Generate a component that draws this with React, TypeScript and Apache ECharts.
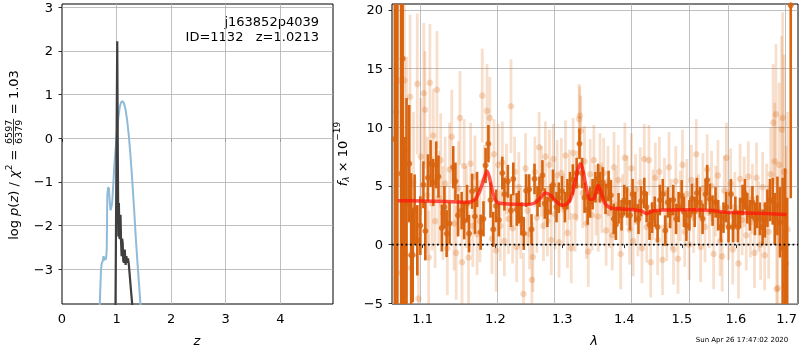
import React, { useEffect, useRef } from 'react';
import * as echarts from 'echarts';

const FONT = 'DejaVu Sans';

// ---------- left panel: log p(z) ----------
const zTicks = [0, 1, 2, 3, 4];
const logpTicks = [-3, -2, -1, 0, 1, 2, 3];
const templateZ = [0.69, 0.715, 0.73, 0.745, 0.76, 0.775, 0.79, 0.805, 0.82, 0.83, 0.845, 0.86, 0.875, 0.89, 0.905, 0.92, 0.94, 0.96, 0.985, 1.01, 1.035, 1.06, 1.085, 1.11, 1.135, 1.165, 1.195, 1.225, 1.255, 1.29, 1.32, 1.35, 1.38, 1.41, 1.44];
const templateLogP = [-3.85, -3.0, -2.85, -2.82, -2.7, -2.8, -2.72, -2.78, -2.55, -1.3, -1.12, -1.15, -1.45, -1.65, -1.58, -1.45, -1.05, -0.6, -0.2, 0.2, 0.5, 0.73, 0.83, 0.85, 0.8, 0.66, 0.4, 0.05, -0.4, -1.02, -1.6, -2.24, -2.8, -3.31, -3.85];
const fitZ = [0.98, 1.0, 1.012, 1.022, 1.032, 1.042, 1.052, 1.062, 1.072, 1.082, 1.092, 1.102, 1.112, 1.122, 1.135, 1.15, 1.165, 1.18, 1.195, 1.21, 1.225, 1.245, 1.265, 1.29];
const fitLogP = [-3.85, 0.0, 2.22, -0.3, -2.25, -1.48, -2.28, -2.3, -1.75, -2.35, -2.7, -2.3, -2.4, -2.8, -2.85, -2.55, -2.9, -2.7, -2.85, -2.75, -2.9, -3.2, -3.5, -3.85];

// ---------- right panel: spectrum ----------
const lamTicks = [1.1, 1.2, 1.3, 1.4, 1.5, 1.6, 1.7];
const fluxTicks = [-5, 0, 5, 10, 15, 20];

// [lambda, flux, error]
const darkPoints = [
  [1.0640, 9.0, 30], [1.0672, 24.0, 30], [1.0722, 6.05, 28], [1.0740, 15.85, 22], [1.0765, -0.83, 10],
  [1.0790, 3.5, 9], [1.0825, 6.9, 5], [1.0850, -0.9, 7], [1.0870, -0.9, 4], [1.0895, 2.98, 3],
  [1.0930, 0.37, 3], [1.0970, 1.62, 2.5], [1.1010, 5.1, 2], [1.1035, 1.16, 2.5], [1.1070, 5.7, 2],
  [1.1105, 6.9, 2], [1.1140, 5.3, 2], [1.1180, 6.8, 2], [1.1210, 5.8, 1.8], [1.1255, 1.42, 2],
  [1.1290, 3.2, 1.8], [1.1320, 0.94, 2], [1.1360, 1.8, 1.8], [1.1410, 6.6, 1.8], [1.1440, 5.4, 1.6],
  [1.1475, 2.5, 1.8], [1.1525, 2.9, 1.6], [1.1560, 2.05, 1.6], [1.1600, 3.5, 1.6], [1.1628, 0.94, 1.6],
  [1.1670, 4.55, 1.5], [1.1710, 2.4, 1.5], [1.1740, 4.7, 1.5], [1.1790, 1.06, 1.5], [1.1830, 2.2, 1.5],
  [1.1860, 6.75, 1.5], [1.1900, 8.6, 1.6], [1.1930, 3.8, 1.5], [1.1970, 1.3, 1.5], [1.2010, 3.3, 1.4],
  [1.2050, 2.1, 1.4], [1.2100, 6.1, 1.4], [1.2130, 4.3, 1.4], [1.2180, 5.4, 1.4], [1.2225, 2.9, 1.4],
  [1.2260, 5.6, 1.4], [1.2310, 3.0, 1.4], [1.2340, 3.2, 1.4], [1.2380, 2.2, 1.4], [1.2415, 0.95, 1.4],
  [1.2450, 4.6, 1.4], [1.2495, 4.7, 1.3], [1.2530, 1.3, 1.3], [1.2575, 5.6, 1.3], [1.2620, 3.7, 1.3],
  [1.2650, 4.5, 1.3], [1.2695, 5.9, 1.3], [1.2730, 3.5, 1.3], [1.2770, 2.8, 1.3], [1.2820, 3.85, 1.3],
  [1.2855, 5.1, 1.3], [1.2910, 3.2, 1.3], [1.2945, 4.0, 1.3], [1.2995, 4.55, 1.3], [1.3040, 3.2, 1.3],
  [1.3080, 4.3, 1.3], [1.3120, 4.9, 1.3], [1.3165, 5.55, 1.3], [1.3225, 6.1, 1.3], [1.3270, 8.6, 1.3],
  [1.3310, 6.1, 1.3], [1.3350, 4.0, 1.3], [1.3400, 3.0, 1.3], [1.3440, 3.6, 1.3], [1.3480, 4.3, 1.3],
  [1.3525, 4.9, 1.3], [1.3570, 5.6, 1.3], [1.3600, 4.9, 1.3], [1.3645, 5.3, 1.3], [1.3690, 3.9, 1.3],
  [1.3740, 5.0, 1.3], [1.3778, 4.2, 1.3], [1.3825, 2.2, 1.3], [1.3860, 1.7, 1.3], [1.3905, 3.1, 1.3],
  [1.3955, 2.5, 1.3], [1.4000, 3.8, 1.3], [1.4045, 3.6, 1.3], [1.4095, 2.5, 1.3], [1.4140, 4.3, 1.3],
  [1.4185, 3.2, 1.3], [1.4240, 2.2, 1.3], [1.4285, 3.7, 1.3], [1.4340, 4.4, 1.3], [1.4380, 3.2, 1.3],
  [1.4430, 1.7, 1.3], [1.4475, 2.3, 1.3], [1.4520, 2.8, 1.3], [1.4570, 1.5, 1.3], [1.4610, 3.8, 1.3],
  [1.4660, 4.3, 1.3], [1.4705, 1.2, 1.3], [1.4750, 3.6, 1.3], [1.4790, 2.7, 1.3], [1.4845, 3.8, 1.3],
  [1.4895, 2.2, 1.3], [1.4940, 3.2, 1.3], [1.4995, 4.2, 1.3], [1.5035, 2.8, 1.3], [1.5080, 1.6, 1.3],
  [1.5135, 2.5, 1.3], [1.5180, 3.9, 1.3], [1.5230, 2.8, 1.3], [1.5270, 4.4, 1.3], [1.5325, 3.6, 1.3],
  [1.5375, 2.2, 1.3], [1.5430, 4.3, 1.3], [1.5460, 5.5, 1.3], [1.5510, 3.9, 1.3], [1.5560, 2.9, 1.3],
  [1.5615, 3.6, 1.3], [1.5665, 2.5, 1.3], [1.5715, 1.5, 1.3], [1.5765, 2.3, 1.3], [1.5815, 3.2, 1.3],
  [1.5860, 1.5, 1.3], [1.5905, 4.3, 1.3], [1.5945, 1.5, 1.3], [1.5990, 2.8, 1.3], [1.6040, 1.5, 1.3],
  [1.6080, 2.7, 1.3], [1.6130, 3.8, 1.3], [1.6175, 4.3, 1.3], [1.6220, 3.1, 1.3], [1.6270, 2.5, 1.3],
  [1.6320, 3.6, 1.4], [1.6370, 2.2, 1.4], [1.6415, 2.8, 1.4], [1.6465, 2.2, 1.4], [1.6520, 1.5, 1.5],
  [1.6565, 2.1, 1.5], [1.6615, 3.1, 1.6], [1.6665, 3.8, 1.8], [1.6720, 3.7, 2], [1.6760, 2.2, 2.2],
  [1.6815, 3.3, 2.5], [1.6865, 1.9, 3], [1.6920, -0.3, 6], [1.6970, -3.5, 10], [1.7010, -8.0, 12],
  [1.7085, 20.4, 16.45],
];

const faintPoints = [
  [1.0655, 11.3, 9], [1.0690, 14.0, 9], [1.0720, -2.4, 8], [1.0745, 4.5, 8], [1.0762, 14.0, 8],
  [1.0790, 8.0, 8], [1.0835, 12.6, 7], [1.0850, -2.0, 6], [1.0880, 5.3, 6], [1.0930, 13.7, 6],
  [1.0945, -4.6, 6], [1.0975, 7.5, 5], [1.1015, 12.9, 6], [1.1030, 11.5, 5], [1.1060, 4.2, 5],
  [1.1080, -1.1, 4], [1.1095, 13.8, 5], [1.1125, 3.5, 4], [1.1140, 9.3, 4], [1.1165, 2.0, 4],
  [1.1190, 13.2, 5], [1.1215, 4.0, 4], [1.1240, 7.2, 4], [1.1270, 2.7, 4], [1.1300, 5.2, 4],
  [1.1330, -0.3, 4], [1.1360, 6.4, 4], [1.1390, 9.2, 4], [1.1420, 1.8, 4], [1.1450, -0.7, 4],
  [1.1480, 4.8, 4], [1.1502, 10.8, 4], [1.1530, -1.5, 4], [1.1560, 6.7, 4], [1.1590, 3.2, 3.5],
  [1.1620, -1.1, 4], [1.1650, 6.9, 3.5], [1.1680, 1.6, 3.5], [1.1710, 5.8, 3.5], [1.1740, 0.9, 3.5],
  [1.1780, 2.0, 3.5], [1.1813, 12.7, 4], [1.1840, 5.5, 3], [1.1880, 11.4, 4], [1.1920, 10.8, 3.5],
  [1.1950, 0.5, 3], [1.1980, 7.7, 3], [1.2010, -0.5, 3.5], [1.2040, 6.8, 3.5], [1.2070, 1.6, 3],
  [1.2100, 7.0, 3.5], [1.2130, 0.3, 3], [1.2160, 5.6, 3], [1.2190, 2.2, 3], [1.2226, 11.8, 4],
  [1.2250, 1.4, 3], [1.2280, 6.2, 3], [1.2310, -0.2, 3], [1.2340, 4.9, 3], [1.2370, 1.8, 3],
  [1.2410, -4.2, 3.5], [1.2440, 6.5, 3], [1.2470, 2.9, 3], [1.2500, 0.9, 3], [1.2535, -3.0, 3.5],
  [1.2550, -1.05, 3], [1.2580, 6.2, 3], [1.2610, 2.3, 3], [1.2645, 8.3, 3], [1.2680, 5.4, 3],
  [1.2710, 1.6, 3], [1.2740, 7.5, 3], [1.2770, 2.0, 3], [1.2800, 6.8, 3], [1.2830, 0.4, 3],
  [1.2860, 7.3, 3], [1.2890, 2.6, 3], [1.2920, 5.9, 3], [1.2950, 0.2, 3], [1.2985, 6.1, 3],
  [1.3020, 3.0, 3], [1.3050, 7.6, 3], [1.3080, 1.0, 3], [1.3110, 5.1, 3], [1.3140, -0.3, 3],
  [1.3170, 7.8, 3], [1.3200, 2.4, 3], [1.3230, 5.0, 3], [1.3265, 10.7, 3], [1.3275, 11.0, 2.5],
  [1.3290, 9.7, 3], [1.3320, 4.4, 3], [1.3350, 7.1, 3], [1.3380, 1.8, 3], [1.3410, -0.6, 3],
  [1.3440, 6.0, 3], [1.3470, 2.5, 3], [1.3500, 7.2, 3], [1.3535, 3.8, 3], [1.3570, 2.4, 3],
  [1.3600, 6.5, 3], [1.3630, 4.0, 3], [1.3660, 6.1, 3], [1.3700, 1.2, 3], [1.3730, 5.4, 3],
  [1.3760, 2.7, 3], [1.3800, 0.8, 3], [1.3830, 6.6, 3], [1.3860, 3.4, 3], [1.3900, 5.5, 3],
  [1.3940, -0.8, 3], [1.3970, 3.0, 3], [1.4010, 7.4, 3], [1.4050, 4.6, 3], [1.4090, 1.3, 3],
  [1.4120, 6.5, 3], [1.4150, 0.3, 3], [1.4190, 4.7, 3], [1.4230, 2.0, 3], [1.4270, 5.3, 3],
  [1.4300, -0.3, 3], [1.4340, 7.3, 3], [1.4380, 1.5, 3], [1.4420, 7.2, 3], [1.4450, -1.5, 3],
  [1.4490, 3.4, 3], [1.4530, 5.7, 3], [1.4570, 0.4, 3], [1.4600, 6.2, 3], [1.4655, -1.3, 3],
  [1.4690, 4.4, 3], [1.4730, 1.6, 3], [1.4770, 6.6, 3], [1.4810, 2.6, 3], [1.4850, -0.4, 3],
  [1.4890, 5.4, 3], [1.4930, -1.2, 3], [1.4970, 3.3, 3], [1.5010, 6.8, 3], [1.5050, 1.1, 3],
  [1.5090, 4.3, 3], [1.5130, 0.0, 3], [1.5170, 5.5, 3], [1.5210, 2.3, 3], [1.5260, 7.7, 3],
  [1.5300, 3.0, 3], [1.5340, -0.2, 3], [1.5380, 4.8, 3], [1.5420, 1.5, 3], [1.5460, 6.4, 3],
  [1.5500, 2.7, 3], [1.5540, 5.0, 3], [1.5580, -0.8, 3], [1.5620, 3.7, 3], [1.5660, 5.9, 3],
  [1.5700, 0.3, 3], [1.5740, -1.0, 3], [1.5780, 4.6, 3], [1.5820, 7.4, 3], [1.5860, 1.7, 3],
  [1.5900, 5.2, 3], [1.5940, -0.4, 3], [1.5980, 3.2, 3], [1.6050, -1.6, 3], [1.6080, 5.6, 3],
  [1.6120, 2.1, 3], [1.6160, 4.5, 3], [1.6200, 0.8, 3], [1.6240, 5.8, 3], [1.6280, 1.9, 3],
  [1.6320, 3.9, 3], [1.6360, -0.7, 3], [1.6400, 5.7, 3], [1.6440, 2.4, 3], [1.6480, 0.0, 3],
  [1.6520, 4.9, 3], [1.6560, -0.9, 3], [1.6600, 3.4, 3.5], [1.6640, 1.1, 4], [1.6680, 6.0, 4],
  [1.6730, 10.4, 5], [1.6760, 7.1, 5], [1.6785, 11.1, 6], [1.6800, -3.8, 6], [1.6820, -3.7, 7],
  [1.6850, 6.8, 7], [1.6900, 9.8, 8], [1.6920, 10.8, 9], [1.6950, 6.2, 10], [1.6990, -1.6, 10],
  [1.7020, 1.3, 10],
];

const modelLam = [1.068, 1.10, 1.13, 1.16, 1.17, 1.178, 1.184, 1.188, 1.192, 1.196, 1.2, 1.205, 1.215, 1.23, 1.245, 1.258, 1.266, 1.274, 1.282, 1.29, 1.299, 1.308, 1.315, 1.32, 1.325, 1.329, 1.333, 1.338, 1.344, 1.35, 1.354, 1.357, 1.361, 1.367, 1.376, 1.39, 1.415, 1.43, 1.438, 1.449, 1.47, 1.52, 1.55, 1.581, 1.62, 1.66, 1.70];
const modelFlux = [3.75, 3.72, 3.68, 3.62, 3.8, 4.6, 5.7, 6.27, 5.6, 4.5, 3.8, 3.55, 3.48, 3.44, 3.43, 3.55, 3.95, 4.4, 4.2, 3.7, 3.35, 3.5, 4.2, 5.3, 6.5, 6.9, 6.2, 4.8, 3.85, 3.9, 4.6, 5.05, 4.6, 3.6, 3.15, 3.05, 2.98, 2.85, 2.64, 2.87, 2.95, 2.98, 2.92, 2.76, 2.7, 2.65, 2.56];

// axis ranges
const Z_MIN = 0, Z_MAX = 4.965, P_MIN = -3.795, P_MAX = 3.076;
const LAM_MIN = 1.0604, LAM_MAX = 1.7234, F_MIN = -5.06, F_MAX = 20.51;

const DARK = '#d8640f';
const FAINT_BAR = 'rgba(217,95,2,0.2)';
const FAINT_DOT = 'rgba(217,95,2,0.3)';
const GRIDC = '#b0b0b0';

const minus = (v: number) => (v < 0 ? '\u2212' + Math.abs(v) : String(v));

function measure(ctx: any, text: string, size: number, italic: boolean) {
  ctx.font = `${italic ? 'italic ' : ''}${size}px "${FONT}"`;
  return ctx.measureText(text).width;
}

function buildVerticalLabel(ctx: any, pieces: any[], cx: number, cy: number) {
  let u = 0;
  const children: any[] = [];
  const font = (size: number, italic: boolean) => `${italic ? 'italic ' : ''}${size}px "${FONT}"`;
  for (const p of pieces) {
    if (p.frac) {
      const s = p.size;
      const w = Math.max(measure(ctx, p.frac[0], s, false), measure(ctx, p.frac[1], s, false)) + 3;
      children.push({ type: 'text', x: u + w / 2, y: -5.2, style: { text: p.frac[0], font: font(s, false), fill: '#000', align: 'center', verticalAlign: 'middle' } });
      children.push({ type: 'text', x: u + w / 2, y: 5.4, style: { text: p.frac[1], font: font(s, false), fill: '#000', align: 'center', verticalAlign: 'middle' } });
      children.push({ type: 'line', shape: { x1: u + 0.5, y1: 0, x2: u + w - 0.5, y2: 0 }, style: { stroke: '#000', lineWidth: 0.8 } });
      u += w;
    } else {
      const w = measure(ctx, p.t, p.size, !!p.italic);
      children.push({ type: 'text', x: u, y: p.dv || 0, style: { text: p.t, font: font(p.size, !!p.italic), fill: '#000', align: 'left', verticalAlign: 'middle' } });
      u += w;
    }
  }
  return { type: 'group', x: cx, y: cy + u / 2, rotation: Math.PI / 2, children, silent: true };
}

function errorBars(rows: number[][], color: string, width: number, z: number) {
  return {
    type: 'custom',
    xAxisIndex: 1,
    yAxisIndex: 1,
    z,
    silent: true,
    dimensions: ['x', 'lo', 'hi'],
    encode: { x: 0, y: [1, 2] },
    data: rows.map((r) => [Math.log10(r[0]), r[1] - r[2], r[1] + r[2]]),
    renderItem: (params: any, api: any) => {
      const x = api.value(0);
      const lo = Math.max(api.value(1), F_MIN);
      const hi = Math.min(api.value(2), F_MAX);
      if (hi <= lo) return null;
      const a = api.coord([x, lo]);
      const b = api.coord([x, hi]);
      return { type: 'line', shape: { x1: a[0], y1: a[1], x2: b[0], y2: b[1] }, style: { stroke: color, lineWidth: width } };
    },
  };
}

export default function App() {
  const ref = useRef<HTMLDivElement>(null);

  useEffect(() => {
    if (!ref.current) return;
    const chart = echarts.init(ref.current, null, { renderer: 'svg' });
    const ctx = document.createElement('canvas').getContext('2d');

    const axisLabelBase = { fontSize: 13, color: '#000', fontFamily: FONT };
    const tickBase = { show: true, length: 3.5, inside: false, lineStyle: { color: '#000', width: 0.8 } };

    const leftLabel = buildVerticalLabel(ctx, [
      { t: 'log ', size: 13 },
      { t: 'p', size: 13, italic: true },
      { t: '(', size: 13 },
      { t: 'z', size: 13, italic: true },
      { t: ') / ', size: 13 },
      { t: '\u03c7', size: 13, italic: true },
      { t: '2', size: 9, dv: -5 },
      { t: ' = ', size: 13 },
      { frac: ['6597', '6379'], size: 9.5 },
      { t: ' = 1.03', size: 13 },
    ], 13.5, 155);

    const rightLabel = buildVerticalLabel(ctx, [
      { t: 'f', size: 13, italic: true },
      { t: '\u03bb', size: 9, italic: true, dv: 3.5 },
      { t: ' \u00d7 10', size: 13 },
      { t: '\u221219', size: 9, dv: -5 },
    ], 342, 154);

    const option: any = {
      animation: false,
      textStyle: { fontFamily: FONT },
      grid: [
        { left: 62, top: 4, width: 271, height: 300, show: true, borderColor: '#000', borderWidth: 1, backgroundColor: 'rgba(0,0,0,0)' },
        { left: 392, top: 4, width: 406, height: 300, show: true, borderColor: '#000', borderWidth: 1, backgroundColor: 'rgba(0,0,0,0)' },
      ],
      xAxis: [
        {
          gridIndex: 0, type: 'value', min: Z_MIN, max: Z_MAX,
          axisLine: { show: false }, splitLine: { show: false },
          axisTick: { ...tickBase, customValues: zTicks },
          axisLabel: { ...axisLabelBase, customValues: zTicks, margin: 8, formatter: minus },
        },
        {
          gridIndex: 1, type: 'value', min: Math.log10(LAM_MIN), max: Math.log10(LAM_MAX),
          axisLine: { show: false }, splitLine: { show: false },
          axisTick: { ...tickBase, customValues: lamTicks.map((v) => Math.log10(v)) },
          axisLabel: { ...axisLabelBase, customValues: lamTicks.map((v) => Math.log10(v)), margin: 8, formatter: (v: number) => Math.pow(10, v).toFixed(1) },
        },
      ],
      yAxis: [
        {
          gridIndex: 0, type: 'value', min: P_MIN, max: P_MAX,
          axisLine: { show: false }, splitLine: { show: false },
          axisTick: { ...tickBase, customValues: logpTicks },
          axisLabel: { ...axisLabelBase, customValues: logpTicks, margin: 9, formatter: minus },
        },
        {
          gridIndex: 1, type: 'value', min: F_MIN, max: F_MAX,
          axisLine: { show: false }, splitLine: { show: false },
          axisTick: { ...tickBase, customValues: fluxTicks },
          axisLabel: { ...axisLabelBase, customValues: fluxTicks, margin: 9, formatter: minus },
        },
      ],
      series: [
        {
          type: 'line', xAxisIndex: 0, yAxisIndex: 0, z: 3,
          data: templateZ.map((z, i) => [z, templateLogP[i]]),
          showSymbol: false, symbol: 'none',
          lineStyle: { color: '#8fbbd9', width: 2 },
          markLine: {
            silent: true, symbol: ['none', 'none'], label: { show: false }, z: 1,
            lineStyle: { color: GRIDC, width: 0.8, type: 'solid' },
            data: [
              ...zTicks.filter((v) => v > Z_MIN).map((v) => ({ xAxis: v })),
              ...logpTicks.map((v) => ({ yAxis: v })),
            ],
          },
        },
        {
          type: 'line', xAxisIndex: 0, yAxisIndex: 0, z: 4,
          data: fitZ.map((z, i) => [z, fitLogP[i]]),
          showSymbol: false, symbol: 'none',
          lineStyle: { color: '#3f3f3f', width: 2.2 },
        },
        errorBars(faintPoints, FAINT_BAR, 2.8, 3),
        {
          type: 'scatter', xAxisIndex: 1, yAxisIndex: 1, z: 4, silent: true,
          data: faintPoints.map((r) => [Math.log10(r[0]), r[1]]),
          symbol: 'circle', symbolSize: 6.5,
          itemStyle: { color: FAINT_DOT },
        },
        errorBars(darkPoints, DARK, 2.6, 5),
        {
          type: 'scatter', xAxisIndex: 1, yAxisIndex: 1, z: 6, silent: true,
          data: darkPoints.map((r) => [Math.log10(r[0]), r[1]]),
          symbol: 'circle', symbolSize: 6,
          itemStyle: { color: DARK },
        },
        {
          type: 'line', xAxisIndex: 1, yAxisIndex: 1, z: 8,
          data: modelLam.map((l, i) => [Math.log10(l), modelFlux[i]]),
          showSymbol: false, symbol: 'none', smooth: 0.3,
          lineStyle: { color: 'rgba(255,20,10,0.72)', width: 3.5 },
          markLine: {
            silent: true, symbol: ['none', 'none'], label: { show: false }, z: 1,
            lineStyle: { color: GRIDC, width: 0.8, type: 'solid' },
            data: [
              ...lamTicks.map((v) => ({ xAxis: Math.log10(v) })),
              ...fluxTicks.filter((v) => v > F_MIN).map((v) => ({ yAxis: v })),
            ],
          },
        },
        {
          type: 'line', xAxisIndex: 1, yAxisIndex: 1, z: 9,
          data: [[Math.log10(LAM_MIN), 0], [Math.log10(LAM_MAX), 0]],
          showSymbol: false, symbol: 'none',
          lineStyle: { color: '#000', width: 1.6, type: [1.8, 2.7] },
        },
      ],
      graphic: [
        { type: 'text', x: 319, y: 21, silent: true, style: { text: 'j163852p4039', font: `13px "${FONT}"`, fill: '#000', align: 'right', verticalAlign: 'middle' } },
        { type: 'text', x: 319, y: 36, silent: true, style: { text: 'ID=1132   z=1.0213', font: `13px "${FONT}"`, fill: '#000', align: 'right', verticalAlign: 'middle' } },
        { type: 'text', x: 197, y: 340, silent: true, style: { text: 'z', font: `italic 13px "${FONT}"`, fill: '#000', align: 'center', verticalAlign: 'middle' } },
        { type: 'text', x: 594, y: 340, silent: true, style: { text: '\u03bb', font: `italic 13px "${FONT}"`, fill: '#000', align: 'center', verticalAlign: 'middle' } },
        { type: 'text', x: 742, y: 340, silent: true, style: { text: 'Sun Apr 26 17:47:02 2020', font: `7px "${FONT}"`, fill: '#000', align: 'center', verticalAlign: 'middle' } },
        leftLabel,
        rightLabel,
      ],
    };

    chart.setOption(option);
    return () => chart.dispose();
  }, []);

  return <div ref={ref} style={{ position: 'fixed', left: 0, top: 0, width: 800, height: 350 }} />;
}
